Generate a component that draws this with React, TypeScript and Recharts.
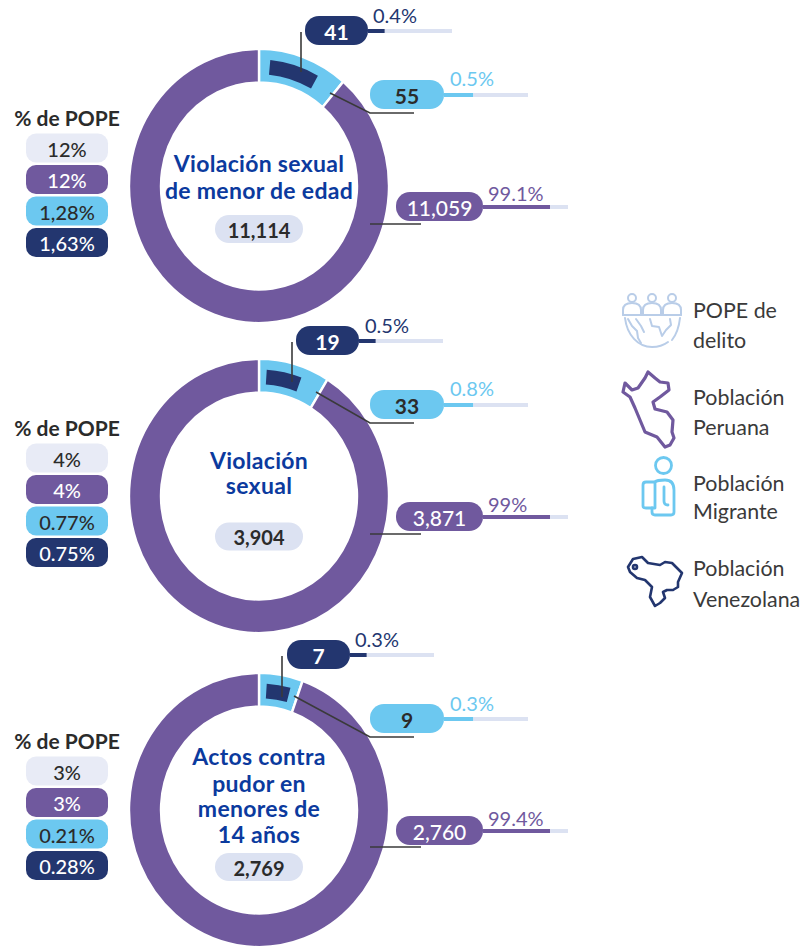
import React from "react";
import { PieChart, Pie, Cell, BarChart, Bar, XAxis, YAxis } from "recharts";

// ---- data ----
const titles = [
  ["Violación sexual", "de menor de edad"],
  ["Violación", "sexual"],
  ["Actos contra", "pudor en", "menores de", "14 años"],
];
const totals = ["11,114", "3,904", "2,769"];
const peruanaCounts = ["11,059", "3,871", "2,760"];
const migranteCounts = ["55", "33", "9"];
const venezolanaCounts = ["41", "19", "7"];
const peruanaPct = ["99.1%", "99%", "99.4%"];
const migrantePct = ["0.5%", "0.8%", "0.3%"];
const venezolanaPct = ["0.4%", "0.5%", "0.3%"];
const popeGeneral = ["12%", "4%", "3%"];
const popePeruana = ["12%", "4%", "3%"];
const popeMigrante = ["1,28%", "0.77%", "0.21%"];
const popeVenezolana = ["1,63%", "0.75%", "0.28%"];
// drawn share of the ring, in degrees as pictured (the arcs are not to scale)
const migranteArc = [40.4, 31.8, 19.6];
const venezolanaLead = [5.4, 3.7, 3.7];
const venezolanaArc = [24, 17, 11.5];
// drawn fill of the small rules (percent of the rule)
const ruleFillPeruana = 79;
const ruleFillMigrante = 35;
const ruleFillVenezolana = 20;

const legendLabels = [
  ["POPE de", "delito"],
  ["Población", "Peruana"],
  ["Población", "Migrante"],
  ["Población", "Venezolana"],
];

// ---- layout ----
const W = 804;
const H = 946;
const FONT = "Lato, 'Open Sans', sans-serif";
const PURPLE = "#70599E";
const BLUE = "#6CC8F0";
const NAVY = "#23366F";
const PALE = "#DCE2F2";
const TITLE = "#0B3A9E";
const INK = "#2B2B2B";
const LINE = "#3A3A3A";
const CX = 259;
const STRETCH = 1.055;
const BOX = 280;

const cys = [186, 496, 810];
const titleYs = [[163, 190], [460, 485], [756, 783, 808, 834]];
const totalYs = [229, 536.5, 867];
const popeOffsets = [0, 310, 623];

const navyPills = [
  { x: 305, y: 16, pctX: 373, pctY: 15 },
  { x: 296, y: 326, pctX: 365, pctY: 325 },
  { x: 287, y: 640, pctX: 355, pctY: 639 },
];
const bluePills = [
  { y: 80, pctY: 78 },
  { y: 390, pctY: 388 },
  { y: 704, pctY: 703 },
];
const purplePills = [
  { y: 192, pctY: 193 },
  { y: 502, pctY: 504 },
  { y: 816, pctY: 818 },
];
const navyLeaders = [
  "M301 32V72",
  "M292 342V382",
  "M282 656V697",
];
const blueLeaders = [
  "M330 93L370 113H414",
  "M316 392L370 423H414",
  "M294 696L370 737H414",
];
const purpleLeaders = [
  "M370 224H421",
  "M370 534H421",
  "M370 847H421",
];

function Donut({ i }: { i: number }) {
  const ring = [
    { name: "Migrante", value: migranteArc[i], fill: BLUE },
    { name: "Peruana", value: 360 - migranteArc[i], fill: PURPLE },
  ];
  const inner = [
    { name: "lead", value: venezolanaLead[i], fill: "transparent" },
    { name: "Venezolana", value: venezolanaArc[i], fill: NAVY },
    { name: "rest", value: 360 - venezolanaLead[i] - venezolanaArc[i], fill: "transparent" },
  ];
  return (
    <div
      style={{
        position: "absolute",
        left: CX - BOX / 2,
        top: cys[i] - BOX / 2,
        width: BOX,
        height: BOX,
        transform: `scaleY(${STRETCH})`,
        transformOrigin: "center",
      }}
    >
      <PieChart width={BOX} height={BOX} margin={{ top: 0, right: 0, bottom: 0, left: 0 }}>
        <Pie
          data={ring}
          dataKey="value"
          cx={BOX / 2}
          cy={BOX / 2}
          innerRadius={98}
          outerRadius={130}
          startAngle={90}
          endAngle={-270}
          stroke="#FFFFFF"
          strokeWidth={2.4}
          isAnimationActive={false}
        >
          {ring.map((d) => (
            <Cell key={d.name} fill={d.fill} />
          ))}
        </Pie>
        <Pie
          data={inner}
          dataKey="value"
          cx={BOX / 2}
          cy={BOX / 2}
          innerRadius={106}
          outerRadius={120}
          startAngle={90}
          endAngle={-270}
          stroke="none"
          isAnimationActive={false}
        >
          {inner.map((d) => (
            <Cell key={d.name} fill={d.fill} />
          ))}
        </Pie>
      </PieChart>
    </div>
  );
}

function Rule({ left, right, y, filled, color }: { left: number; right: number; y: number; filled: number; color: string }) {
  const data = [{ name: "rule", filled, rest: 100 - filled }];
  const h = 4;
  return (
    <div style={{ position: "absolute", left, top: y - h / 2, width: right - left, height: h, lineHeight: 0 }}>
      <BarChart
        layout="vertical"
        width={right - left}
        height={h}
        data={data}
        margin={{ top: 0, right: 0, bottom: 0, left: 0 }}
        barCategoryGap={0}
      >
        <XAxis type="number" domain={[0, 100]} hide />
        <YAxis type="category" dataKey="name" hide />
        <Bar dataKey="filled" stackId="r" fill={color} isAnimationActive={false} />
        <Bar dataKey="rest" stackId="r" fill={PALE} isAnimationActive={false} />
      </BarChart>
    </div>
  );
}

function Pill({ x, y, w, h, fill, color, text, weight = 500, size = 21, radius = 14 }: any) {
  return (
    <g>
      <rect x={x} y={y} width={w} height={h} rx={radius} fill={fill} />
      <text
        x={x + w / 2}
        y={y + h / 2 + 0.5}
        textAnchor="middle"
        dominantBaseline="central"
        fontFamily={FONT}
        fontSize={size}
        fontWeight={weight}
        fill={color}
      >
        {text}
      </text>
    </g>
  );
}

function Pct({ x, y, color, text }: any) {
  return (
    <text x={x} y={y} dominantBaseline="central" fontFamily={FONT} fontSize={20} fill={color}>
      {text}
    </text>
  );
}

function Icons() {
  const people = [632, 652, 672];
  return (
    <g fill="none" strokeLinejoin="round" strokeLinecap="round">
      <g stroke="#B9CDE8" strokeWidth={2}>
        {people.map((px) => (
          <g key={px}>
            <circle cx={px} cy={298} r={4} />
            <path d={`M${px - 9} 315V310C${px - 9} 305 ${px - 5} 303 ${px} 303C${px + 5} 303 ${px + 9} 305 ${px + 9} 310V315`} />
          </g>
        ))}
        <path d="M623 315H681" />
        <path d="M625 318C627 335 638 347 652 347C658 347 664 345 668 342M672 340C676 335 679 327 680 318" />
        <path d="M628 319L632 326L637 331L638 338L641 343M636 319L641 326L644 332" />
        <path d="M650 319L652 326L659 327L662 336L666 330L671 325L670 319" />
      </g>
      <path
        stroke={PURPLE}
        strokeWidth={3.2}
        d="M648 372L655 378L660 382L668 383L669 390L660 397L653 402L655 409L663 411L667 412L673 420L672 432L674 438L670 445L665 447L657 437L645 432L640 420L635 408L630 397L623 392L625 383L632 390L638 388L645 378Z"
      />
      <g stroke={BLUE} strokeWidth={2.8}>
        <circle cx={663.5} cy={465.5} r={8} />
        <path d="M655 482C657 480 660 480 665 480C672 480 674 484 674 490V512C674 514 673 515 671 515H655C653 515 652 514 652 512V508" />
        <path d="M655 482H646C644 482 643 483 643 485V506C643 507 644 508 646 508H655Z" />
        <path d="M664 487V501C664 504 666 505 668 505" />
      </g>
      <g stroke={NAVY} strokeWidth={2.6}>
        <path d="M628 567L633 559L642 557L648 563L660 565L665 562L672 563L677 568L682 573L678 582L678 587L673 590L667 590L663 592L665 598L660 603L655 606L650 597L652 587L645 580L637 578L630 572Z" />
        <circle cx={635} cy={567} r={2} />
      </g>
    </g>
  );
}

export default function App() {
  const idx = [0, 1, 2];
  const legendYs = [[309.5, 339.5], [396.5, 426.5], [482.5, 510.5], [567.5, 598.5]];
  return (
    <div style={{ position: "absolute", left: 0, top: 0, width: W, height: H, background: "#FFFFFF", overflow: "hidden" }}>
      {idx.map((i) => (
        <Donut key={i} i={i} />
      ))}
      {idx.map((i) => (
        <React.Fragment key={i}>
          <Rule left={navyPills[i].x + 63} right={navyPills[i].x + 147} y={navyPills[i].y + 14.5} filled={ruleFillVenezolana} color={NAVY} />
          <Rule left={444} right={528} y={bluePills[i].y + 14.5} filled={ruleFillMigrante} color={BLUE} />
          <Rule left={483} right={568} y={purplePills[i].y + 14.5} filled={ruleFillPeruana} color={PURPLE} />
        </React.Fragment>
      ))}
      <svg width={W} height={H} style={{ position: "absolute", left: 0, top: 0, pointerEvents: "none" }}>
        {idx.map((i) => (
          <g key={i}>
            <g fill="none" stroke={LINE} strokeWidth={1.6}>
              <path d={navyLeaders[i]} />
              <path d={blueLeaders[i]} />
              <path d={purpleLeaders[i]} />
            </g>
            {titles[i].map((line, k) => (
              <text
                key={line}
                x={CX}
                y={titleYs[i][k]}
                textAnchor="middle"
                dominantBaseline="central"
                fontFamily={FONT}
                fontSize={23}
                letterSpacing={0.3}
                fontWeight={700}
                fill={TITLE}
              >
                {line}
              </text>
            ))}
            <Pill x={215} y={totalYs[i] - 14} w={88} h={28} fill={PALE} color={INK} text={totals[i]} weight={700} size={20} />
            <Pill x={navyPills[i].x} y={navyPills[i].y} w={63} h={29} fill={NAVY} color="#FFFFFF" text={venezolanaCounts[i]} weight={700} />
            <Pct x={navyPills[i].pctX} y={navyPills[i].pctY} color={NAVY} text={venezolanaPct[i]} />
            <Pill x={370} y={bluePills[i].y} w={74} h={29} fill={BLUE} color={INK} text={migranteCounts[i]} weight={700} />
            <Pct x={450} y={bluePills[i].pctY} color={BLUE} text={migrantePct[i]} />
            <Pill x={396} y={purplePills[i].y} w={87} h={29} fill={PURPLE} color="#FFFFFF" text={peruanaCounts[i]} />
            <Pct x={488} y={purplePills[i].pctY} color={PURPLE} text={peruanaPct[i]} />

            <text x={67} y={117.5 + popeOffsets[i]} textAnchor="middle" dominantBaseline="central" fontFamily={FONT} fontSize={21} fontWeight={700} fill={INK}>
              % de POPE
            </text>
            <Pill x={26} y={133.5 + popeOffsets[i]} w={82} h={29} radius={10} fill="#E8EBF6" color={INK} text={popeGeneral[i]} size={20} />
            <Pill x={26} y={165 + popeOffsets[i]} w={82} h={29} radius={10} fill={PURPLE} color="#FFFFFF" text={popePeruana[i]} size={20} />
            <Pill x={26} y={196.5 + popeOffsets[i]} w={82} h={29} radius={10} fill={BLUE} color={INK} text={popeMigrante[i]} size={20} />
            <Pill x={26} y={228 + popeOffsets[i]} w={82} h={29} radius={10} fill={NAVY} color="#FFFFFF" text={popeVenezolana[i]} size={20} />
          </g>
        ))}
        <Icons />
        {legendLabels.map((lines, i) =>
          lines.map((line, k) => (
            <text key={line + i} x={693} y={legendYs[i][k]} dominantBaseline="central" fontFamily={FONT} fontSize={21.4} fill="#3A3A3A">
              {line}
            </text>
          ))
        )}
      </svg>
    </div>
  );
}
